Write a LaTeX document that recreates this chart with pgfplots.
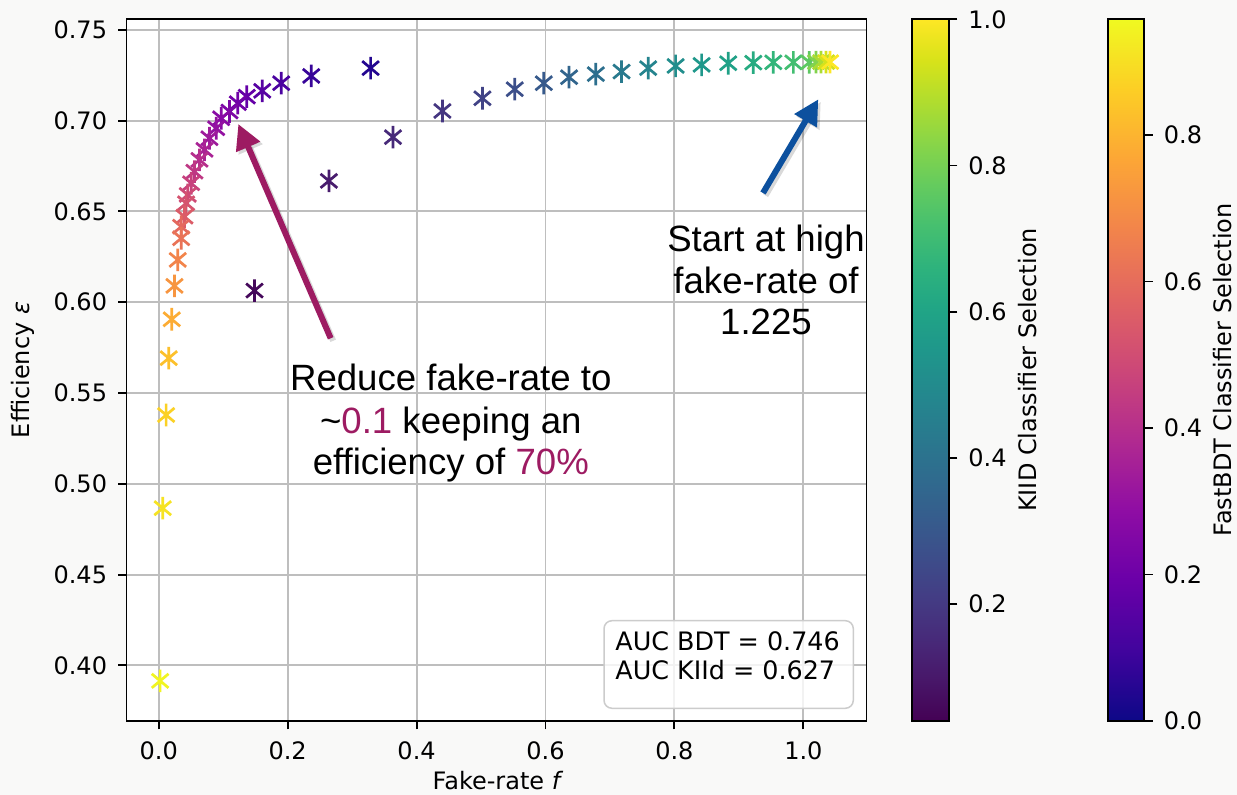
\documentclass[border=0pt]{standalone}
\usepackage{fontspec}
\setmainfont{DejaVu Sans}
\newfontfamily\arial{Liberation Sans}
\usepackage{pgfplots}
\pgfplotsset{compat=1.18}
\usetikzlibrary{arrows.meta}

\definecolor{bgc}{RGB}{249,249,248}
\definecolor{gridc}{RGB}{190,190,190}
\definecolor{annpurple}{RGB}{157,27,98}
\definecolor{annblue}{RGB}{12,80,158}
\definecolor{boxedge}{RGB}{204,204,204}

\pgfplotsset{
  colormap={plasma}{rgb255(0cm)=(13,8,135); rgb255(1cm)=(65,4,157); rgb255(2cm)=(106,0,168);
    rgb255(3cm)=(143,13,164); rgb255(4cm)=(177,42,144); rgb255(5cm)=(204,71,120);
    rgb255(6cm)=(225,100,98); rgb255(7cm)=(242,132,75); rgb255(8cm)=(252,166,54);
    rgb255(9cm)=(252,206,37); rgb255(10cm)=(240,249,33)},
  % shared geometry of the main box
  mainbox/.style={at={(63.25pt,37pt)}, anchor=south west, scale only axis,
    width=370pt, height=350.85pt,
    xmin=-0.050, xmax=1.098, ymin=0.3694, ymax=0.7558},
  cbar/.style={at={(parent axis.north east)}, anchor=north west,
    width=18.35pt, height=350.85pt, scale only axis,
    ytick pos=right, yticklabel pos=right, tick align=outside,
    major tick length=4.2pt, tick style={black, line width=0.96pt},
    axis line style={line width=0.96pt},
    /pgf/number format/assume math mode=true,
    yticklabel style={font=\fontsize{12}{14}\selectfont, xshift=2pt,
      /pgf/number format/.cd, fixed, fixed zerofill, precision=1}},
}

% asterisk like the matplotlib one: vertical arm plus two flatter diagonals
\pgfdeclareplotmark{kast}{%
  \pgfpathmoveto{\pgfqpoint{0pt}{-\pgfplotmarksize}}%
  \pgfpathlineto{\pgfqpoint{0pt}{\pgfplotmarksize}}%
  \pgfpathmoveto{\pgfqpoint{-0.74\pgfplotmarksize}{-0.62\pgfplotmarksize}}%
  \pgfpathlineto{\pgfqpoint{0.74\pgfplotmarksize}{0.62\pgfplotmarksize}}%
  \pgfpathmoveto{\pgfqpoint{-0.74\pgfplotmarksize}{0.62\pgfplotmarksize}}%
  \pgfpathlineto{\pgfqpoint{0.74\pgfplotmarksize}{-0.62\pgfplotmarksize}}%
  \pgfusepathqstroke}

\pgfplotstableread{
x y c
0.3287 0.7289 0.04
0.2366 0.7246 0.08
0.1900 0.7206 0.12
0.1606 0.7164 0.15
0.1366 0.7132 0.18
0.1227 0.7096 0.21
0.1098 0.7050 0.24
0.0969 0.7013 0.27
0.0891 0.6958 0.30
0.0787 0.6903 0.33
0.0710 0.6839 0.36
0.0632 0.6784 0.40
0.0554 0.6719 0.43
0.0503 0.6655 0.46
0.0450 0.6591 0.49
0.0425 0.6545 0.52
0.0399 0.6471 0.55
0.0348 0.6416 0.59
0.0348 0.6352 0.62
0.0295 0.6233 0.67
0.0244 0.6090 0.72
0.0202 0.5906 0.78
0.0155 0.5692 0.83
0.0115 0.5379 0.87
0.0062 0.4866 0.91
0.0022 0.3915 0.95
}\bdt

\pgfplotstableread{
x y c
0.1486 0.6064 0.06
0.2640 0.6668 0.11
0.3634 0.6909 0.15
0.4401 0.7053 0.19
0.5022 0.7123 0.23
0.5523 0.7173 0.27
0.5974 0.7206 0.31
0.6366 0.7239 0.35
0.6781 0.7256 0.39
0.7180 0.7270 0.43
0.7593 0.7289 0.47
0.8019 0.7301 0.51
0.8422 0.7307 0.55
0.8835 0.7316 0.59
0.9224 0.7319 0.63
0.9534 0.7321 0.67
0.9845 0.7321 0.71
1.0093 0.7321 0.76
1.0197 0.7322 0.82
1.0275 0.7322 0.88
1.0353 0.7322 0.94
1.0415 0.7322 1.00
}\kiid

\begin{document}
\begin{tikzpicture}
\path[use as bounding box, fill=bgc] (0,0) rectangle (618.5pt,397.5pt);

% main axis: grid, ticks and the FastBDT scan
\begin{axis}[mainbox,
  axis background/.style={fill=white},
  xtick={0,0.2,0.4,0.6,0.8,1.0},
  ytick={0.40,0.45,0.50,0.55,0.60,0.65,0.70,0.75},
  xtick pos=bottom, ytick pos=left,
  grid=major, grid style={gridc, line width=0.96pt},
  axis line style={line width=0.96pt},
  tick align=outside, major tick length=4.2pt,
  tick style={black, line width=0.96pt},
  /pgf/number format/assume math mode=true,
  tick label style={font=\fontsize{12}{14}\selectfont},
  xticklabel style={yshift=-2.8pt, /pgf/number format/.cd, fixed, fixed zerofill, precision=1},
  yticklabel style={xshift=-2pt, /pgf/number format/.cd, fixed, fixed zerofill, precision=2},
  colormap name=plasma, point meta min=0, point meta max=0.958]
\addplot[scatter, only marks, mark=kast, mark size=5.65pt, line width=1.35pt,
  scatter/use mapped color={draw=mapped color}, point meta=explicit]
  table[x=x, y=y, meta=c] {\bdt};
\end{axis}

% overlay: KIID scan with its own colormap and colour bar
\begin{axis}[mainbox, hide axis,
  colormap/viridis, point meta min=0.04, point meta max=1,
  colorbar, colorbar/width=18.35pt, colorbar shift/.style={},
  colorbar style={cbar, xshift=22.9pt, ytick={0.2,0.4,0.6,0.8,1.0}}]
\addplot[scatter, only marks, mark=kast, mark size=5.65pt, line width=1.35pt,
  scatter/use mapped color={draw=mapped color}, point meta=explicit]
  table[x=x, y=y, meta=c] {\kiid};
\end{axis}

% FastBDT colour bar
\begin{axis}[mainbox, hide axis,
  colormap name=plasma, point meta min=0, point meta max=0.958,
  colorbar, colorbar/width=18.35pt, colorbar shift/.style={},
  colorbar style={cbar, xshift=120.6pt, ytick={0,0.2,0.4,0.6,0.8}}]
\addplot[draw=none] coordinates {(0.5,0.5)};
\end{axis}

% axis and colour bar labels
\node[font=\fontsize{12}{14}\selectfont] at (248.25pt,7pt) {Fake-rate {\itshape f}};
\node[rotate=90, font=\fontsize{12}{14}\selectfont] at (11.5pt,212.5pt) {Efficiency {\itshape ε}};
\node[rotate=90, font=\fontsize{12}{14}\selectfont] at (514pt,212.5pt) {KIID Classifier Selection};
\node[rotate=90, font=\fontsize{12}{14}\selectfont] at (611.5pt,212.5pt) {FastBDT Classifier Selection};

% AUC box
\draw[boxedge, line width=0.75pt, fill=white, fill opacity=0.8, rounded corners=4pt]
  (302pt,43.35pt) rectangle (426.65pt,87.15pt);
\node[anchor=base west, inner sep=0pt, font=\fontsize{12.7}{14}\selectfont] at (307.5pt,72.15pt) {AUC BDT = 0.746};
\node[anchor=base west, inner sep=0pt, font=\fontsize{12.7}{14}\selectfont] at (307.5pt,57.85pt) {AUC KIId = 0.627};

% arrows with a faint shadow
\draw[black, opacity=0.15, line width=3pt, -{Triangle[length=12.5pt,width=12.4pt]}]
  (166.6pt,227.1pt) -- (120.4pt,334.25pt);
\draw[annpurple, line width=3pt, -{Triangle[length=12.5pt,width=12.4pt]}]
  (165.35pt,228.35pt) -- (119.15pt,335.5pt);
\draw[black, opacity=0.15, line width=3pt, -{Triangle[length=12.5pt,width=12.4pt]}]
  (382.75pt,299.75pt) -- (410.4pt,346.6pt);
\draw[annblue, line width=3pt, -{Triangle[length=12.5pt,width=12.4pt]}]
  (381.5pt,301pt) -- (409.15pt,347.85pt);

% annotation texts
\begin{scope}[every node/.style={anchor=base, inner sep=0pt, font=\arial\fontsize{18.3}{21}\selectfont}]
\node at (225.4pt,202pt) {Reduce fake-rate to};
\node at (225.4pt,180.85pt) {\textasciitilde{\color{annpurple}0.1} keeping an};
\node at (225.4pt,160pt) {efficiency of {\color{annpurple}70\%}};
\node at (383pt,271.5pt) {Start at high};
\node at (383pt,250.5pt) {fake-rate of};
\node at (383pt,230pt) {1.225};
\end{scope}
\end{tikzpicture}
\end{document}
